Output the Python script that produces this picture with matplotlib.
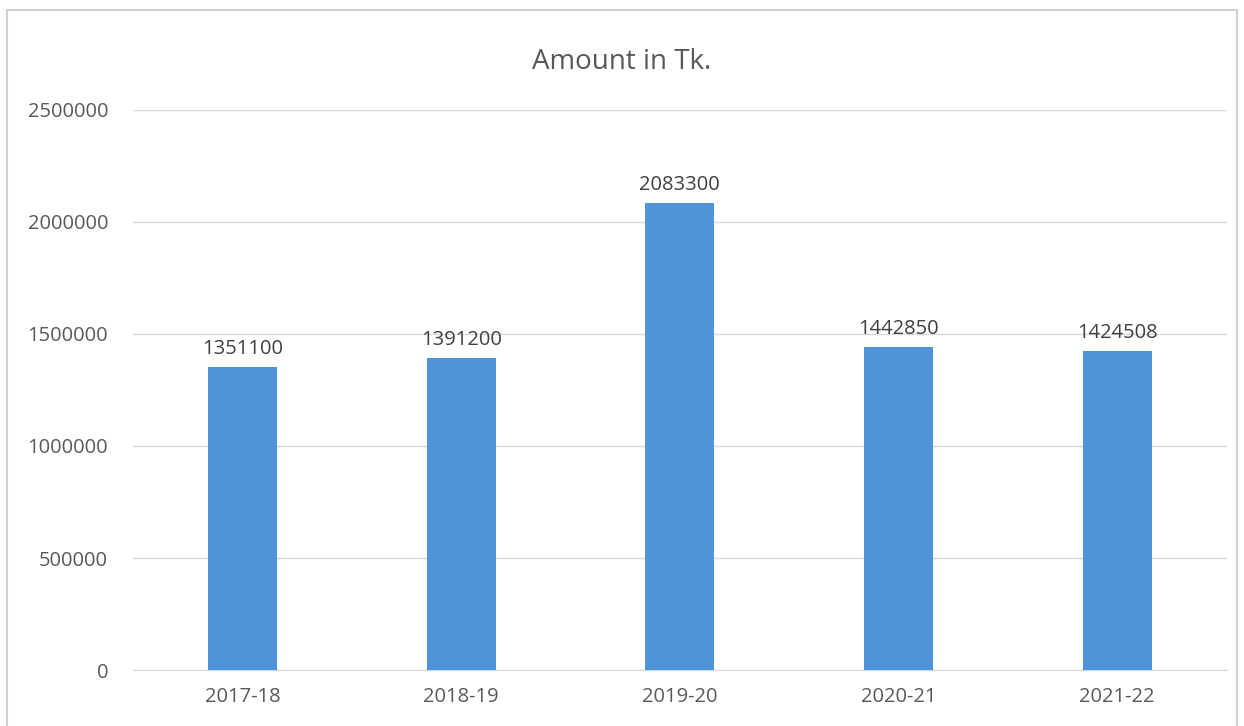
import matplotlib as mpl
mpl.use('Agg')
import matplotlib.pyplot as plt
import numpy as np
from matplotlib.patches import Rectangle

years = ['2017-18', '2018-19', '2019-20', '2020-21', '2021-22']
amounts = [1351100, 1391200, 2083300, 1442850, 1424508]
y_ticks = [0, 500000, 1000000, 1500000, 2000000, 2500000]

plt.rcParams['font.family'] = ['Open Sans', 'DejaVu Sans']
text_color = '#595959'

fig = plt.figure(figsize=(12.44, 7.26), dpi=100)
ax = fig.add_axes([0.107, 0.077, 0.879, 0.772])

x = np.arange(len(years))
ax.bar(x, amounts, width=0.315, color='#4f93d8', zorder=3)
for xi, v in zip(x, amounts):
    ax.text(xi, v + 35000, str(v), ha='center', va='bottom', fontsize=14.5, color='#404040')

ax.set_xlim(-0.5, len(years) - 0.5)
ax.set_ylim(0, 2500000)
ax.set_yticks(y_ticks)
ax.set_yticklabels([str(t) for t in y_ticks])
ax.set_xticks(x)
ax.set_xticklabels(years)
ax.tick_params(axis='both', length=0, labelsize=14.5, colors=text_color)
ax.tick_params(axis='y', pad=18)
ax.tick_params(axis='x', pad=12)
ax.grid(axis='y', color='#d9d9d9', linewidth=1, zorder=0)
for s in ['top', 'right', 'left']:
    ax.spines[s].set_visible(False)
ax.spines['bottom'].set_color('#d9d9d9')

fig.text(0.5, 0.915, 'Amount in Tk.', ha='center', va='center', fontsize=20, color=text_color)

# chart border
fig.patches.append(Rectangle((7 / 1244, -0.01), 1230 / 1244, 1 - 10 / 726 + 0.01,
                             transform=fig.transFigure, fill=False,
                             edgecolor='#d0d0d0', linewidth=1.5))

plt.savefig('out.png')
